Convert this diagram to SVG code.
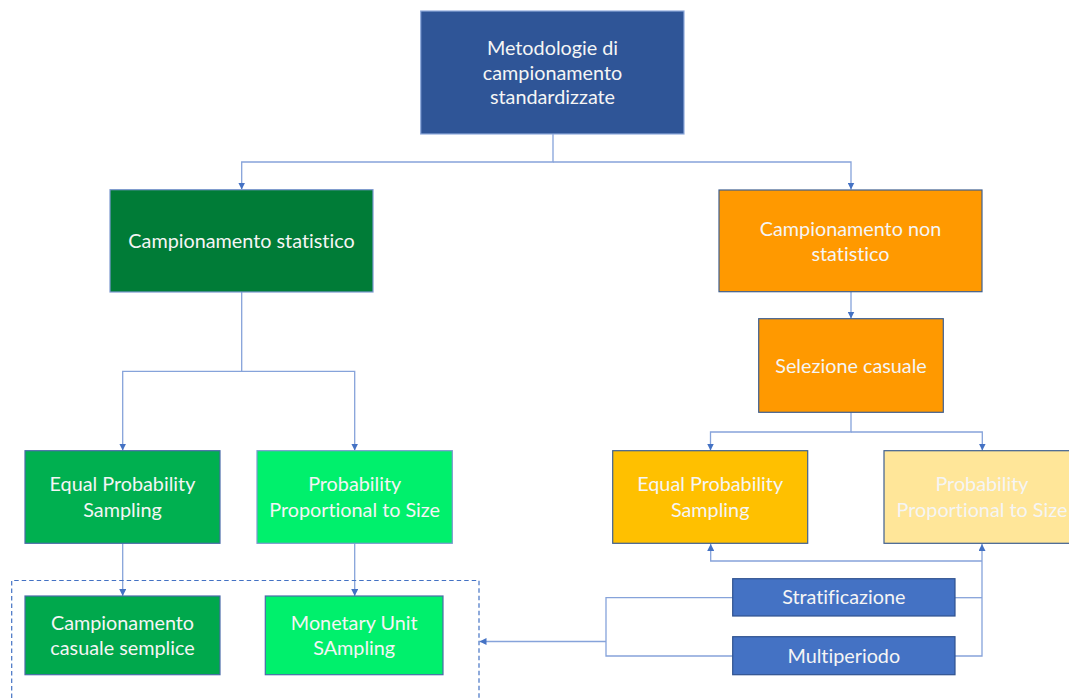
<svg xmlns="http://www.w3.org/2000/svg" width="1069" height="698" viewBox="0 0 1069 698">
<style>
text{font-family:Lato,"Open Sans","Liberation Sans",sans-serif;font-size:19.8px;fill:#F5F5F5;text-anchor:middle;font-variant-ligatures:none;font-feature-settings:"liga" 0}
.c{fill:none;stroke:#86A3DA;stroke-width:1.3}
.b{stroke-width:1.2}
</style>
<defs>
<marker id="ah" viewBox="0 0 10 10" refX="10" refY="5" markerWidth="7" markerHeight="7" markerUnits="userSpaceOnUse" orient="auto">
<path d="M0,0 L10,5 L0,10 z" fill="#4472C4"/>
</marker>
</defs>
<rect width="1069" height="698" fill="#FFFFFF"/>
<g id="connectors">
<path class="c" d="M553,134 V162 H241.7 V189.5" marker-end="url(#ah)"/>
<path class="c" d="M553,162 H851 V189.5" marker-end="url(#ah)"/>
<path class="c" d="M241.7,292 V371.3 H122.7 V450.5" marker-end="url(#ah)"/>
<path class="c" d="M241.7,371.3 H354.7 V450.5" marker-end="url(#ah)"/>
<path class="c" d="M122.7,543.3 V596" marker-end="url(#ah)"/>
<path class="c" d="M354.7,543.3 V596" marker-end="url(#ah)"/>
<path class="c" d="M851,292 V318.5" marker-end="url(#ah)"/>
<path class="c" d="M851,412.3 V432 H710.5 V450.5" marker-end="url(#ah)"/>
<path class="c" d="M851,432 H982.3 V450.5" marker-end="url(#ah)"/>
<path class="c" d="M955,597.7 H982"/>
<path class="c" d="M955,656 H982 V544" marker-end="url(#ah)"/>
<path class="c" d="M982,561 H710.7 V544" marker-end="url(#ah)"/>
<path class="c" d="M732.7,597.7 H606 V656 H732.7"/>
<path class="c" d="M606,641.5 H479.5" marker-end="url(#ah)"/>
<path d="M11.7,698 V580.5 H479 V698" fill="none" stroke="#4472C4" stroke-width="1.2" stroke-dasharray="4.5,3"/>
</g>
<g id="n-metodologie">
<rect class="b" x="420.7" y="11" width="263.3" height="123" fill="#2F5597" stroke="#8FAADC"/>
<text x="552.5" y="55">Metodologie di</text>
<text x="552.5" y="79.8">campionamento</text>
<text x="552.5" y="104.3">standardizzate</text>
</g>
<g id="n-statistico">
<rect class="b" x="110" y="189.7" width="263" height="102.3" fill="#007C37" stroke="#7C98D0"/>
<text x="241.5" y="248.3">Campionamento statistico</text>
</g>
<g id="n-nonstatistico">
<rect class="b" x="719" y="190" width="263" height="101.7" fill="#FF9900" stroke="#3F5F8F"/>
<text x="850.5" y="236">Campionamento non</text>
<text x="850.5" y="260.7">statistico</text>
</g>
<g id="n-selezione">
<rect class="b" x="758.7" y="318.7" width="184.6" height="93.6" fill="#FF9900" stroke="#3F5F8F"/>
<text x="851" y="372.5">Selezione casuale</text>
</g>
<g id="n-eps-green">
<rect class="b" x="25" y="450.7" width="195" height="92.6" fill="#00B050" stroke="#4A6BA8"/>
<text x="122.5" y="491.4">Equal Probability</text>
<text x="122.5" y="516.6">Sampling</text>
</g>
<g id="n-pps-green">
<rect class="b" x="257" y="450.7" width="195.3" height="92.6" fill="#00F06C" stroke="#7C98D0"/>
<text x="354.7" y="491.4">Probability</text>
<text x="354.7" y="516.6">Proportional to Size</text>
</g>
<g id="n-eps-orange">
<rect class="b" x="612.7" y="450.7" width="195" height="92.6" fill="#FFC000" stroke="#3F5F8F"/>
<text x="710.2" y="491.4">Equal Probability</text>
<text x="710.2" y="516.6">Sampling</text>
</g>
<g id="n-pps-light">
<rect class="b" x="884" y="450.7" width="196" height="92.6" fill="#FFE699" stroke="#3F5F8F"/>
<text x="982" y="491.4">Probability</text>
<text x="982" y="516.6">Proportional to Size</text>
</g>
<g id="n-ccs">
<rect class="b" x="25" y="596" width="195" height="78.7" fill="#00A84C" stroke="#4A6BA8"/>
<text x="122.5" y="629.8">Campionamento</text>
<text x="122.5" y="654.8">casuale semplice</text>
</g>
<g id="n-mus">
<rect class="b" x="265.3" y="596" width="177.7" height="78.7" fill="#00F06C" stroke="#4A6BA8"/>
<text x="354.2" y="629.8">Monetary Unit</text>
<text x="354.2" y="654.8">SAmpling</text>
</g>
<g id="n-stratificazione">
<rect class="b" x="732.7" y="578.7" width="222.3" height="37.3" fill="#4472C4" stroke="#2F528F"/>
<text x="843.8" y="604.3">Stratificazione</text>
</g>
<g id="n-multiperiodo">
<rect class="b" x="732.7" y="636.7" width="222.3" height="38" fill="#4472C4" stroke="#2F528F"/>
<text x="843.8" y="662.7">Multiperiodo</text>
</g>
</svg>
